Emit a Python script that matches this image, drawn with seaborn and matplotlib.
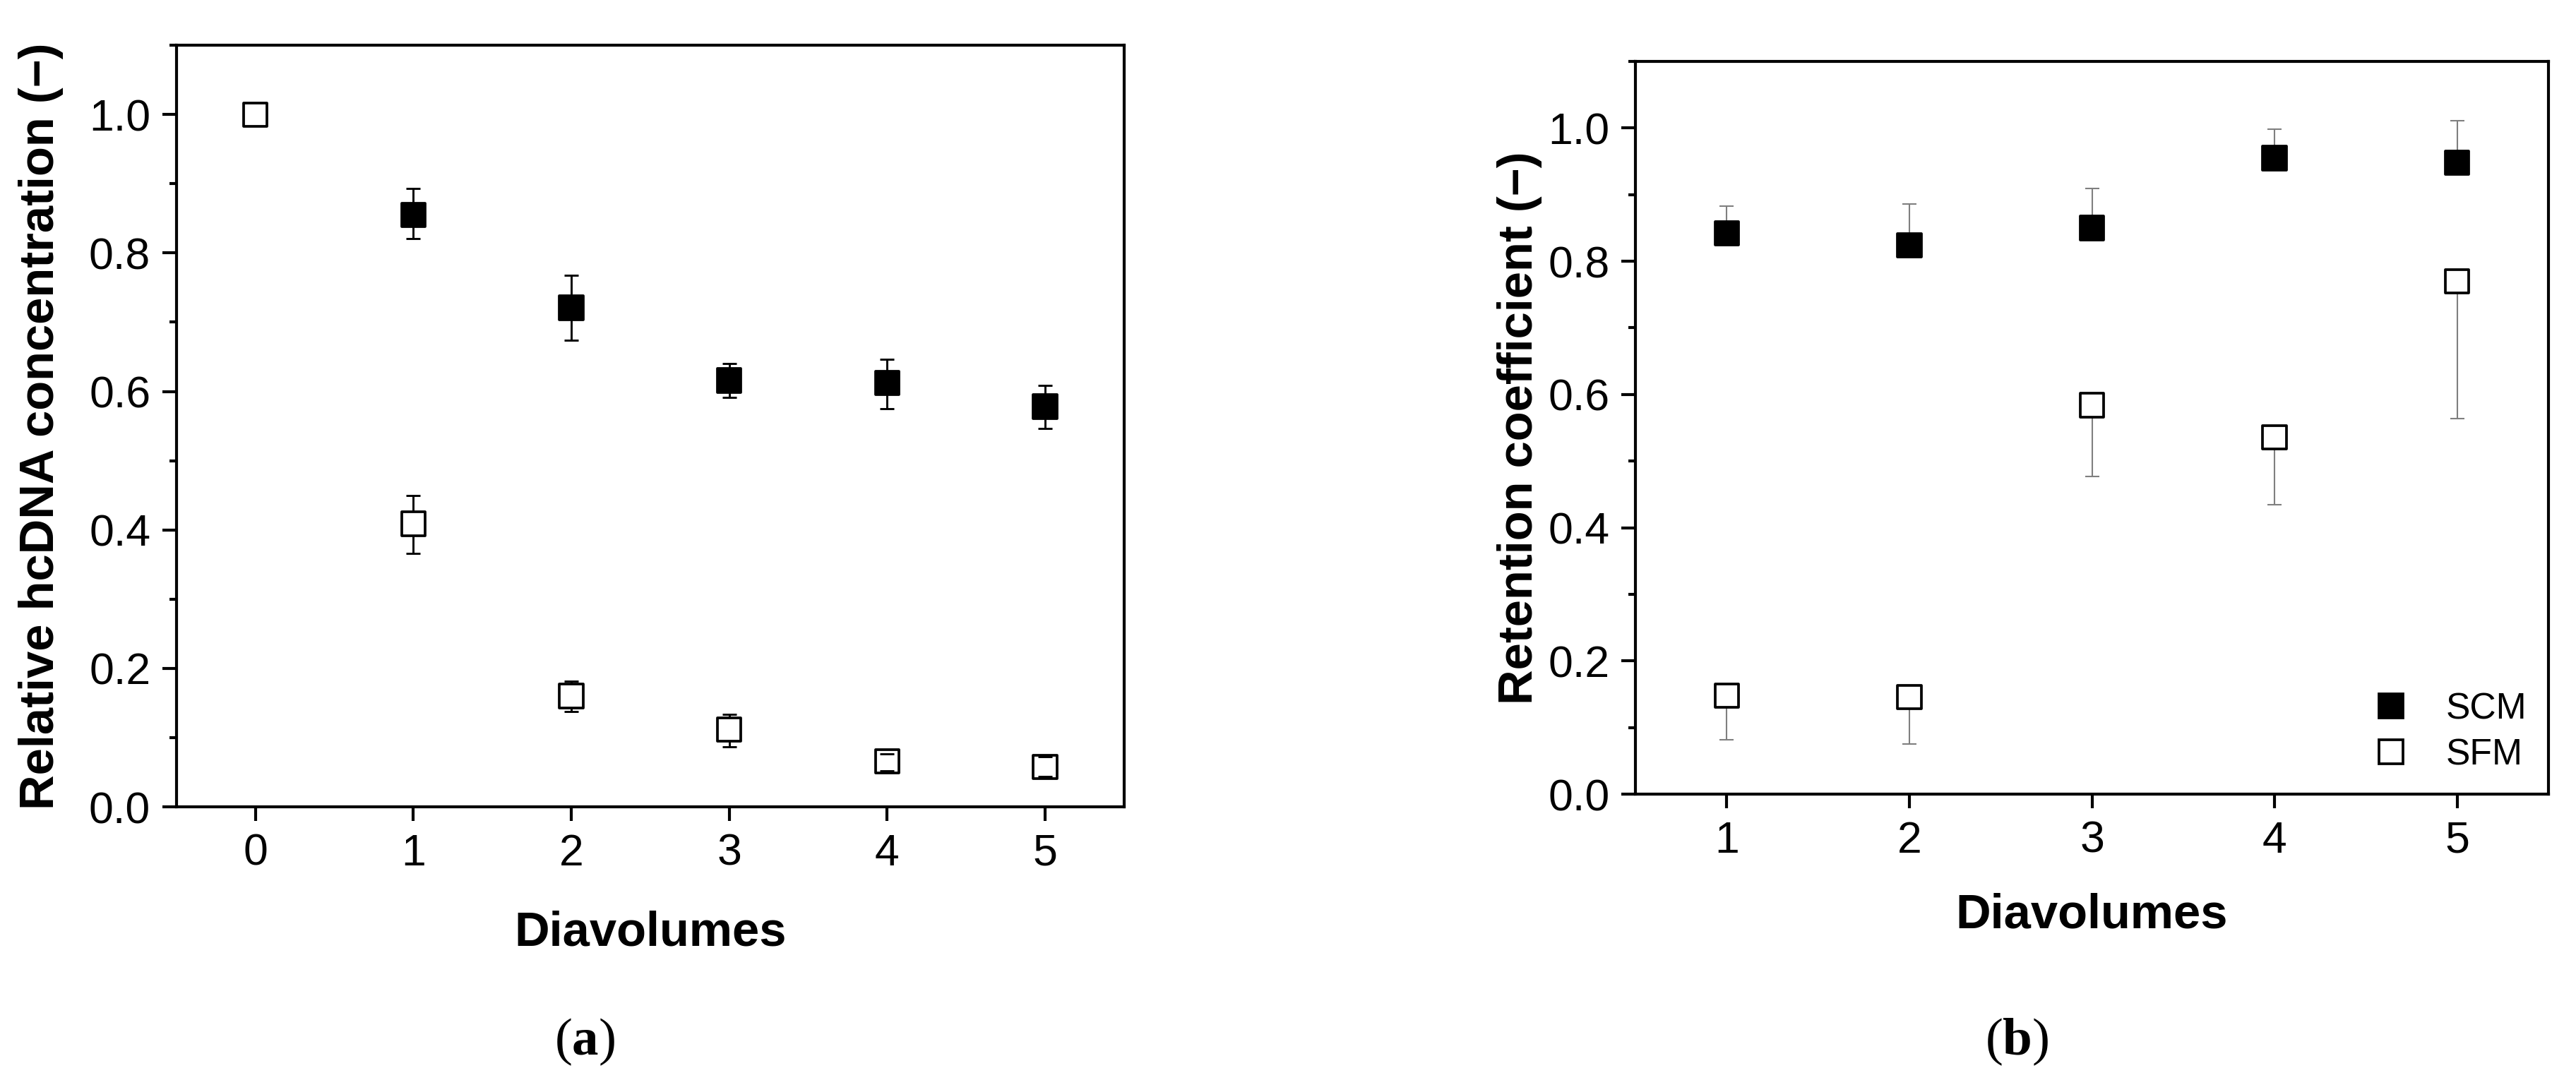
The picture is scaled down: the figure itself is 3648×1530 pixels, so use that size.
import matplotlib
matplotlib.use("Agg")
import matplotlib.pyplot as plt
import numpy as np
import pandas as pd
import seaborn as sns
from matplotlib.lines import Line2D
from matplotlib.ticker import MultipleLocator, FormatStrFormatter

# panel (a): relative hcDNA concentration
dv_scm_a = [1, 2, 3, 4, 5]
scm_a = [0.855, 0.721, 0.616, 0.612, 0.578]
scm_a_lo = [0.821, 0.674, 0.591, 0.575, 0.547]
scm_a_hi = [0.893, 0.768, 0.640, 0.646, 0.609]

dv_sfm_a = [0, 1, 2, 3, 4, 5]
sfm_a = [1.0, 0.409, 0.160, 0.112, 0.066, 0.058]
sfm_a_lo = [1.0, 0.366, 0.138, 0.087, 0.052, 0.044]
sfm_a_hi = [1.0, 0.450, 0.182, 0.134, 0.077, 0.072]

# panel (b): retention coefficient (one-sided error bars)
dv_b = [1, 2, 3, 4, 5]
scm_b = [0.842, 0.824, 0.850, 0.955, 0.948]
scm_b_hi = [0.883, 0.886, 0.909, 0.998, 1.011]
sfm_b = [0.148, 0.146, 0.584, 0.536, 0.770]
sfm_b_lo = [0.0815, 0.0756, 0.477, 0.434, 0.564]

sns.set_theme(style="ticks")
plt.rcParams["font.family"] = ["Liberation Sans", "DejaVu Sans"]
plt.rcParams["mathtext.fontset"] = "custom"
plt.rcParams["mathtext.rm"] = "Liberation Serif"
plt.rcParams["mathtext.bf"] = "Liberation Serif:bold"
plt.rcParams["text.color"] = "black"
plt.rcParams["axes.labelcolor"] = "black"
plt.rcParams["axes.edgecolor"] = "black"
plt.rcParams["xtick.color"] = "black"
plt.rcParams["ytick.color"] = "black"

palette = {"SCM": "black", "SFM": "white"}

df_a = pd.DataFrame({
    "Diavolumes": dv_scm_a + dv_sfm_a,
    "value": scm_a + sfm_a,
    "medium": ["SCM"] * len(dv_scm_a) + ["SFM"] * len(dv_sfm_a),
})
df_b = pd.DataFrame({
    "Diavolumes": dv_b + dv_b,
    "value": scm_b + sfm_b,
    "medium": ["SCM"] * len(dv_b) + ["SFM"] * len(dv_b),
})

fig = plt.figure(figsize=(12.16, 5.1), dpi=300)
ax1 = fig.add_axes([0.0685, 0.2529, 0.3679, 0.7052])
ax2 = fig.add_axes([0.6349, 0.2647, 0.3544, 0.6784])


def style_axis(ax, xlim, xticks):
    ax.set_xlim(*xlim)
    ax.set_ylim(0, 1.1)
    ax.set_xticks(xticks)
    ax.set_yticks(np.arange(0, 1.01, 0.2))
    ax.yaxis.set_major_formatter(FormatStrFormatter("%.1f"))
    ax.yaxis.set_minor_locator(MultipleLocator(0.1))
    ax.tick_params(which="major", direction="out", length=4.8, width=1.0,
                   labelsize=15, pad=4)
    ax.tick_params(which="minor", axis="y", direction="out", length=2.4,
                   width=1.0)
    ax.tick_params(which="minor", axis="x", length=0)
    for sp in ax.spines.values():
        sp.set_visible(True)
        sp.set_linewidth(1.0)
        sp.set_color("black")


# ---- panel (a)
y = np.array(scm_a)
err = [y - np.array(scm_a_lo), np.array(scm_a_hi) - y]
ax1.errorbar(dv_scm_a, scm_a, yerr=err, fmt="none", ecolor="black",
             elinewidth=0.7, capsize=2.3, capthick=0.7, zorder=2)

# the starting point (0 diavolumes) has no spread, skip its bar
x = np.array(dv_sfm_a)
y = np.array(sfm_a)
lo = np.array(sfm_a_lo)
hi = np.array(sfm_a_hi)
has_err = hi > lo
err = [(y - lo)[has_err], (hi - y)[has_err]]
eb2 = ax1.errorbar(x[has_err], y[has_err], yerr=err, fmt="none",
                   ecolor="black", elinewidth=0.7, capsize=2.3,
                   capthick=0.7, zorder=2)
for cap in eb2[1]:
    cap.set_zorder(4)
sns.scatterplot(data=df_a, x="Diavolumes", y="value", hue="medium",
                palette=palette, marker="s", s=64, edgecolor="black",
                linewidth=0.9, legend=False, zorder=3, ax=ax1)
style_axis(ax1, (-0.5, 5.5), range(0, 6))
ax1.set_xlabel("Diavolumes", fontsize=16.5, fontweight="bold")
ax1.set_ylabel("Relative hcDNA concentration (\u2212)", fontsize=16.5,
               fontweight="bold")
ax1.xaxis.set_label_coords(0.5, -0.165)
ax1.xaxis.label.set_va("center")
ax1.yaxis.set_label_coords(-0.143, 0.5)
ax1.yaxis.label.set_va("center")

# ---- panel (b)
y = np.array(scm_b)
ax2.errorbar(dv_b, scm_b, yerr=[np.zeros(len(y)), np.array(scm_b_hi) - y],
             fmt="none", ecolor="#7f7f7f", elinewidth=0.5, capsize=2.3,
             capthick=0.5, zorder=2)
y = np.array(sfm_b)
ax2.errorbar(dv_b, sfm_b, yerr=[y - np.array(sfm_b_lo), np.zeros(len(y))],
             fmt="none", ecolor="#7f7f7f", elinewidth=0.5, capsize=2.3,
             capthick=0.5, zorder=2)
sns.scatterplot(data=df_b, x="Diavolumes", y="value", hue="medium",
                palette=palette, marker="s", s=64, edgecolor="black",
                linewidth=0.9, legend=False, zorder=3, ax=ax2)
style_axis(ax2, (0.5, 5.5), range(1, 6))
ax2.set_xlabel("Diavolumes", fontsize=16.5, fontweight="bold")
ax2.set_ylabel("Retention coefficient (\u2212)", fontsize=16.5,
               fontweight="bold")
ax2.xaxis.set_label_coords(0.5, -0.165)
ax2.xaxis.label.set_va("center")
ax2.yaxis.set_label_coords(-0.127, 0.5)
ax2.yaxis.label.set_va("center")

handles = [
    Line2D([], [], ls="none", marker="s", markersize=8, markerfacecolor=c,
           markeredgecolor="black", markeredgewidth=0.9)
    for c in palette.values()
]
ax2.legend(handles, list(palette.keys()), loc="lower right", frameon=False,
           fontsize=12.4, handlelength=1.0, handletextpad=1.0,
           labelspacing=0.3, borderaxespad=0.3, borderpad=0.3)

fig.text(0.227, 0.035, r"($\mathbf{a}$)", ha="center", va="center",
         fontsize=18, family="Liberation Serif")
fig.text(0.783, 0.035, r"($\mathbf{b}$)", ha="center", va="center",
         fontsize=18, family="Liberation Serif")

fig.savefig("out.png", dpi=300, facecolor="white")
